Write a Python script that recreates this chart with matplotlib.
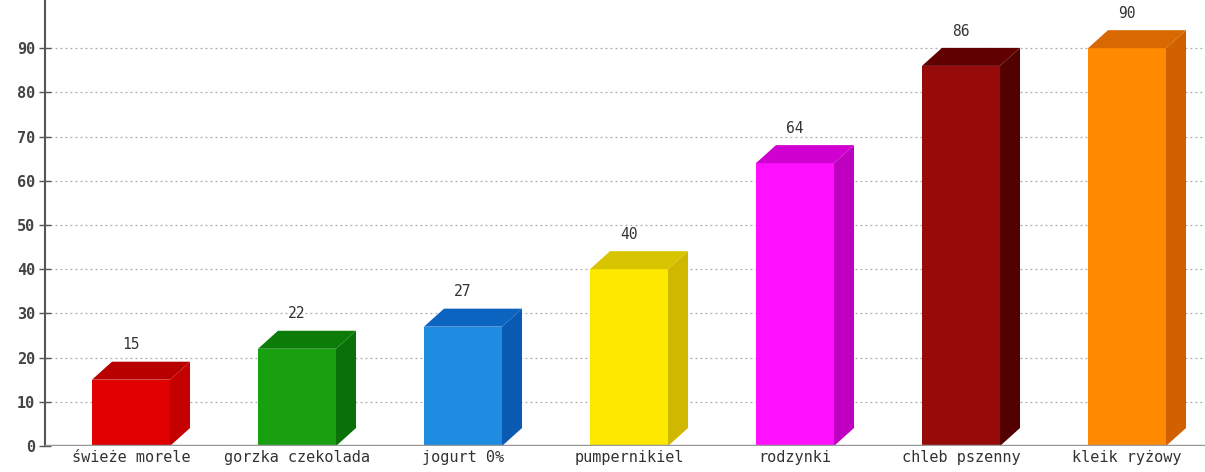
import matplotlib.pyplot as plt
from matplotlib.patches import Polygon

kategorie = ["świeże morele", "gorzka czekolada", "jogurt 0%", "pumpernikiel",
             "rodzynki", "chleb pszenny", "kleik ryżowy"]
wartosci = [15, 22, 27, 40, 64, 86, 90]
kolory_przod = ["#e00000", "#18a010", "#1e8ce0", "#ffe800", "#ff10ff", "#960a0a", "#ff8a00"]
kolory_gora = ["#b80000", "#0c7c08", "#0a64c0", "#d8c400", "#d000d0", "#600000", "#d86800"]
kolory_bok = ["#c40000", "#0a7008", "#0a5ab4", "#d0b800", "#c000c0", "#520000", "#d06000"]
yticks = list(range(0, 100, 10))

W, H = 1205, 472
fig = plt.figure(figsize=(W / 100, H / 100), dpi=100)
ax = fig.add_axes([45 / W, 26 / H, 1160 / W, 446 / H])

ax.set_xlim(-86 / 166, (1160 - 86) / 166)
ax.set_ylim(0, 446 / 4.42)

szer = 0.47
dx = 20 / 166
dy = 18 / 4.42
czcionka = "DejaVu Sans Mono"

for y in yticks[1:]:
    ax.axhline(y, color="#aaaaaa", lw=0.9, ls=(0, (1.5, 2.5)), zorder=1)

for i, (v, cp, cg, cb) in enumerate(zip(wartosci, kolory_przod, kolory_gora, kolory_bok)):
    x0, x1 = i - szer / 2, i + szer / 2
    ax.add_patch(Polygon([(x0, 0), (x1, 0), (x1, v), (x0, v)], closed=True,
                         facecolor=cp, edgecolor="none", zorder=3))
    ax.add_patch(Polygon([(x0, v), (x1, v), (x1 + dx, v + dy), (x0 + dx, v + dy)],
                         closed=True, facecolor=cg, edgecolor="none", zorder=3))
    ax.add_patch(Polygon([(x1, 0), (x1 + dx, dy), (x1 + dx, v + dy), (x1, v)],
                         closed=True, facecolor=cb, edgecolor="none", zorder=2))
    ax.text(i, v + dy + 3.8, str(v), ha="center", va="center",
            fontsize=10.5, family=czcionka, color="#333333", zorder=4)

ax.axhline(0, color="#999999", lw=2.5, zorder=5)

ax.set_xticks(range(len(kategorie)))
ax.set_xticklabels(kategorie, family=czcionka, fontsize=11, color="#333333")
ax.set_yticks(yticks)
ax.set_yticklabels([str(t) for t in yticks], family=czcionka,
                   fontsize=11, fontweight="bold", color="#444444")
ax.tick_params(axis="x", length=0, pad=3)
ax.tick_params(axis="y", direction="inout", length=8, width=1, color="#555555", pad=3)

for s in ["top", "right", "bottom"]:
    ax.spines[s].set_visible(False)
ax.spines["left"].set_color("#555555")
ax.spines["left"].set_linewidth(1.5)

fig.savefig("out.png", dpi=100)
